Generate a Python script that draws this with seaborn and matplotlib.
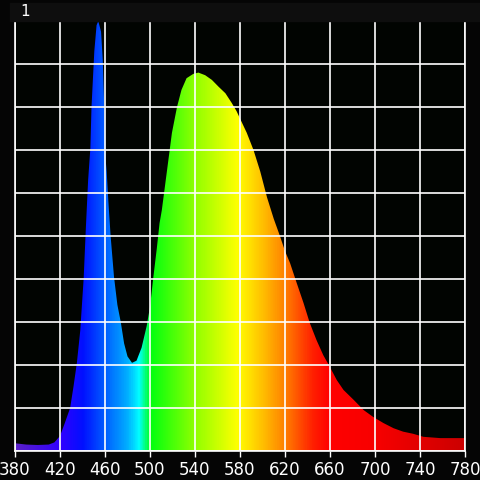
import numpy as np
import matplotlib
matplotlib.use("Agg")
import matplotlib.pyplot as plt
from matplotlib.colors import LinearSegmentedColormap
from matplotlib.patches import Rectangle
import seaborn as sns

# spectrum (wavelength nm, relative intensity)
wavelength = [380, 390, 400, 410, 415, 420, 424, 429, 432, 435, 438, 441, 443, 445,
              447, 448, 450.5, 452.5, 454, 456.5, 458, 459.5, 460.5, 461.5, 463, 465,
              468, 471, 474, 477, 480, 484, 488, 492.5, 497, 500, 503, 506, 508.5,
              510.5, 515, 519.5, 524, 528, 532.5, 538.5, 543, 549, 555, 561, 567,
              572.5, 577, 581.5, 586, 592, 598, 604, 610, 615.5, 620, 624.5, 630.5,
              636.5, 642, 648, 654, 660, 666, 672, 681, 690, 698.5, 707.5, 716.5,
              725, 734, 743, 758, 780]
intensity = [0.018, 0.015, 0.014, 0.015, 0.02, 0.035, 0.063, 0.10, 0.15, 0.205, 0.28,
             0.40, 0.52, 0.63, 0.705, 0.80, 0.93, 0.99, 1.0, 0.975, 0.91, 0.79, 0.68,
             0.65, 0.58, 0.50, 0.405, 0.34, 0.30, 0.25, 0.22, 0.205, 0.21, 0.24, 0.29,
             0.335, 0.405, 0.47, 0.53, 0.56, 0.65, 0.74, 0.80, 0.84, 0.867, 0.877,
             0.88, 0.874, 0.863, 0.847, 0.832, 0.81, 0.79, 0.765, 0.74, 0.70, 0.65,
             0.59, 0.54, 0.50, 0.465, 0.437, 0.39, 0.344, 0.298, 0.258, 0.223, 0.195,
             0.165, 0.142, 0.119, 0.095, 0.079, 0.065, 0.053, 0.045, 0.04, 0.033,
             0.03, 0.03]
x_ticks = [380, 420, 460, 500, 540, 580, 620, 660, 700, 740, 780]

# colour of each wavelength
spec_anchors = [(380, "#5a20c8"), (420, "#3000ff"), (440, "#0010ff"), (460, "#0060ff"),
                (480, "#00b0ff"), (490, "#00ffff"), (500, "#00ff10"), (540, "#90ff00"),
                (578, "#ffff00"), (600, "#ffc000"), (620, "#ff8000"), (645, "#ff2000"),
                (660, "#ff0000"), (700, "#f80000"), (780, "#cc0000")]
cmap = LinearSegmentedColormap.from_list(
    "spec", [((w - 380) / 400, c) for w, c in spec_anchors])

sns.set_theme(style="dark", rc={
    "figure.facecolor": "#050505", "axes.facecolor": "#010401",
    "axes.edgecolor": "white", "grid.color": "white", "grid.linewidth": 1.2,
    "xtick.color": "white", "text.color": "white",
})
plt.rcParams["font.family"] = ["Liberation Sans Narrow", "DejaVu Sans"]

fig = plt.figure(figsize=(4.8, 4.8), dpi=100)
fig.patches.append(Rectangle((10 / 480, 459 / 480), 1, 18 / 480, transform=fig.transFigure,
                             color="#0e0e0e", zorder=0))
ax = fig.add_axes([15 / 480, 29 / 480, 450 / 480, 430 / 480])

sns.lineplot(x=wavelength, y=intensity, ax=ax, linewidth=0, color="black")
poly = ax.fill_between(wavelength, intensity, 0, facecolor="none", edgecolor="none")
grad = np.linspace(380, 780, 800).reshape(1, -1)
img = ax.imshow(grad, cmap=cmap, vmin=380, vmax=780, extent=[380, 780, 0, 1],
                aspect="auto", origin="lower", zorder=1)
img.set_clip_path(poly.get_paths()[0], transform=ax.transData)

ax.set_xlim(380, 780)
ax.set_ylim(0, 1)
ax.set_xticks(x_ticks)
ax.set_yticks(np.arange(0, 1.01, 0.1))
ax.set_yticklabels([])
ax.tick_params(axis="x", colors="white", length=4, width=1, pad=3, labelsize=12,
               bottom=True)
ax.tick_params(axis="y", length=0)
ax.grid(True, color="white", linewidth=1.2)
ax.set_axisbelow(False)
for s in ax.spines.values():
    s.set_color("white")
    s.set_linewidth(1.2)
ax.set_xlabel("")
ax.set_ylabel("")

fig.text(25 / 480, 1 - 11 / 480, "1", color="white", fontsize=11, ha="center", va="center")

fig.savefig("out.png", dpi=100, facecolor=fig.get_facecolor())
